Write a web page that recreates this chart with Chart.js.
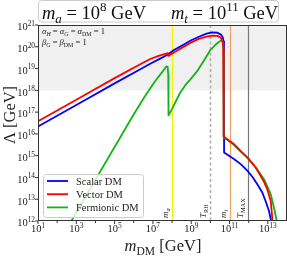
<!DOCTYPE html>
<html>
<head>
<meta charset="utf-8">
<script src="https://cdn.jsdelivr.net/npm/chart.js@4"></script>
<style>
  html, body { margin: 0; padding: 0; background: #fff; }
  canvas { display: block; }
</style>
</head>
<body>
<canvas id="chart" width="287" height="257"></canvas>
<script>
// values, as exponents: log10(m_DM / GeV) and log10(Lambda / GeV)
const scalarLogM = [1, 3, 5, 6.34, 6.86, 7.3, 7.74, 8.1, 8.5, 9.0, 9.4, 9.8, 10.1, 10.35, 10.55, 10.64, 10.69, 10.71, 10.715, 11.23, 11.6, 11.93, 12.2, 12.45, 12.71, 12.88, 13.06, 13.15, 13.18];
const scalarLogL = [16.34, 17.33, 18.32, 18.97, 19.22, 19.42, 19.62, 19.85, 20.05, 20.3, 20.46, 20.6, 20.66, 20.65, 20.56, 20.45, 20.25, 19.7, 15.15, 14.85, 14.6, 14.31, 14.02, 13.69, 13.31, 12.92, 12.46, 12.08, 12.0];

const vectorLogM = [1, 3, 5, 6.34, 6.86, 7.3, 7.6, 7.78, 7.8, 8.1, 8.5, 9.0, 9.4, 9.8, 10.1, 10.35, 10.53, 10.62, 10.67, 10.69, 10.695, 11.22, 11.6, 11.93, 12.36, 12.62, 12.8, 12.97, 13.15, 13.2, 13.24];
const vectorLogL = [16.58, 17.57, 18.56, 19.2, 19.44, 19.58, 19.66, 19.71, 19.58, 19.74, 19.95, 20.2, 20.36, 20.47, 20.51, 20.5, 20.43, 20.3, 20.05, 19.5, 15.88, 15.54, 15.2, 14.92, 14.46, 14.08, 13.8, 13.46, 12.92, 12.45, 12.0];

const fermionLogM = [2.74, 4, 5, 6, 6.6, 7.11, 7.45, 7.7, 7.77, 7.8, 7.815, 8.0, 8.2, 8.43, 8.7, 9.0, 9.31, 9.65, 10.0, 10.25, 10.44, 10.58, 10.65, 10.69, 10.695, 11.22, 11.6, 11.93, 12.36, 12.8, 13.15, 13.36, 13.46];
const fermionLogL = [12.0, 13.9, 15.4, 16.9, 17.75, 18.42, 18.8, 19.1, 19.08, 18.7, 16.85, 17.15, 17.5, 17.9, 18.25, 18.55, 18.88, 19.35, 19.85, 20.08, 20.22, 20.3, 20.22, 19.8, 15.84, 15.5, 15.18, 14.9, 14.48, 13.92, 13.23, 12.46, 12.0];

const seriesLabels = ["Scalar DM", "Vector DM", "Fermionic DM"];
const seriesColors = ["#0000ff", "#ff0000", "#14b414"];

const shadeAbove = 1e18;
const markerValues = [1e8, 1e10, 1e11, 9.3e11];
const markerNames = [["m", "a"], ["T", "RH"], ["m", "t"], ["T", "MAX"]];
const markerColors = ["#f2f200", "#b0b0b0", "#f0a064", "#777777"];

const xTickExps = [1, 3, 5, 7, 9, 11, 13];
const xMinorExps = [2, 4, 6, 8, 10, 12];
const yTickExps = [12, 13, 14, 15, 16, 17, 18, 19, 20, 21];

const SERIF = '"Liberation Serif", "DejaVu Serif", serif';

function toPoints(logM, logL) {
  return logM.map((m, i) => ({ x: Math.pow(10, m), y: Math.pow(10, logL[i]) }));
}

// small helper for text with sub/superscripts
function fontOf(p, size) {
  return (p.it ? "italic " : "") + (size * (p.sc || 1)).toFixed(2) + "px " + SERIF;
}
function richWidth(ctx, parts, size) {
  let w = 0;
  parts.forEach((p) => { ctx.font = fontOf(p, size); w += ctx.measureText(p.t).width; });
  return w;
}
function drawRich(ctx, parts, x, y, size, align) {
  const w = richWidth(ctx, parts, size);
  if (align === "center") x -= w / 2;
  if (align === "right") x -= w;
  ctx.textAlign = "left";
  ctx.textBaseline = "alphabetic";
  parts.forEach((p) => {
    ctx.font = fontOf(p, size);
    ctx.fillText(p.t, x, y + (p.dy || 0) * size);
    x += ctx.measureText(p.t).width;
  });
}
const sub = (t, it) => ({ t: t, it: it, sc: 0.7, dy: 0.22 });
const sup = (t) => ({ t: t, sc: 0.7, dy: -0.42 });

function roundRect(ctx, x, y, w, h, r) {
  ctx.beginPath();
  ctx.moveTo(x + r, y);
  ctx.arcTo(x + w, y, x + w, y + h, r);
  ctx.arcTo(x + w, y + h, x, y + h, r);
  ctx.arcTo(x, y + h, x, y, r);
  ctx.arcTo(x, y, x + w, y, r);
  ctx.closePath();
}

const decor = {
  id: "decor",
  beforeDatasetsDraw(chart) {
    const { ctx, chartArea: a, scales: { x, y } } = chart;
    ctx.save();
    ctx.fillStyle = "#f0f0f0";
    const yb = y.getPixelForValue(shadeAbove);
    ctx.fillRect(a.left, a.top, a.right - a.left, yb - a.top);

    markerValues.forEach((v, i) => {
      const px = Math.round(x.getPixelForValue(v)) + 0.5;
      ctx.strokeStyle = markerColors[i];
      ctx.lineWidth = i === 1 ? 1.6 : 1.2;
      ctx.setLineDash(i === 1 ? [3, 2.5] : []);
      ctx.beginPath();
      ctx.moveTo(px, a.top);
      ctx.lineTo(px, a.bottom);
      ctx.stroke();
    });
    ctx.restore();
  },
  afterDatasetsDraw(chart) {
    const { ctx, chartArea: a, scales: { x, y } } = chart;
    ctx.save();
    ctx.fillStyle = "#222";

    // rotated marker names at the bottom, just left of each line
    markerValues.forEach((v, i) => {
      const px = x.getPixelForValue(v);
      const n = markerNames[i];
      const subPx = n[1].length === 1 ? 2.5 : 3.2;
      ctx.save();
      ctx.translate(px - 1.5 - subPx, a.bottom - 3);
      ctx.rotate(-Math.PI / 2);
      drawRich(ctx, [{ t: n[0], it: true }, sub(n[1], n[1].length === 1)], 0, 0, 9, "left");
      ctx.restore();
    });

    // frame
    ctx.strokeStyle = "#333";
    ctx.lineWidth = 1;
    ctx.strokeRect(a.left + 0.5, a.top + 0.5, a.right - a.left - 1, a.bottom - a.top - 1);

    // y ticks
    yTickExps.forEach((e) => {
      const py = y.getPixelForValue(Math.pow(10, e));
      ctx.beginPath();
      ctx.moveTo(a.left - 3, py);
      ctx.lineTo(a.left, py);
      ctx.stroke();
      drawRich(ctx, [{ t: "10" }, sup(String(e))], a.left - 3, py + 5.3, 10.5, "right");
    });
    // x ticks
    xTickExps.forEach((e) => {
      const px = x.getPixelForValue(Math.pow(10, e));
      ctx.beginPath();
      ctx.moveTo(px, a.bottom);
      ctx.lineTo(px, a.bottom + 3);
      ctx.stroke();
      drawRich(ctx, [{ t: "10" }, sup(String(e))], px, 232, 10.5, "center");
    });
    xMinorExps.forEach((e) => {
      const px = x.getPixelForValue(Math.pow(10, e));
      ctx.beginPath();
      ctx.moveTo(px, a.bottom);
      ctx.lineTo(px, a.bottom + 2);
      ctx.stroke();
    });

    // axis titles
    drawRich(ctx, [{ t: "m", it: true }, sub("DM"), { t: " [GeV]" }], 163, 251, 16.5, "center");
    ctx.save();
    ctx.translate(15, 115);
    ctx.rotate(-Math.PI / 2);
    drawRich(ctx, [{ t: "Λ [GeV]" }], 0, 0, 16.5, "center");
    ctx.restore();

    // coupling note
    const al = { t: "α", it: true }, be = { t: "β", it: true }, eq = { t: " = " };
    drawRich(ctx, [al, sub("H", true), eq, al, sub("G", true), eq, al, sub("DM"), { t: " = 1" }], 42, 34, 8.5, "left");
    drawRich(ctx, [be, sub("G", true), eq, be, sub("DM"), { t: " = 1" }], 42, 45, 8.5, "left");

    // legend
    ctx.fillStyle = "rgba(255,255,255,0.8)";
    ctx.strokeStyle = "#cccccc";
    roundRect(ctx, 43.5, 174.5, 100, 43, 3);
    ctx.fill();
    ctx.stroke();
    chart.data.datasets.forEach((ds, i) => {
      const ly = 181 + i * 13.2;
      ctx.strokeStyle = ds.borderColor;
      ctx.lineWidth = 1.8;
      ctx.beginPath();
      ctx.moveTo(47, ly);
      ctx.lineTo(68, ly);
      ctx.stroke();
      ctx.fillStyle = "#222";
      drawRich(ctx, [{ t: ds.label }], 76, ly + 3.5, 10.5, "left");
    });

    // title box
    ctx.fillStyle = "#fff";
    ctx.strokeStyle = "#cccccc";
    ctx.lineWidth = 1;
    roundRect(ctx, 38.5, 0.5, 240, 21.5, 3);
    ctx.fill();
    ctx.stroke();
    ctx.fillStyle = "#111";
    drawRich(ctx, [{ t: "m", it: true }, sub("a", true), { t: " = 10" }, sup("8"), { t: " GeV" }], 42, 18.5, 18.5, "left");
    drawRich(ctx, [{ t: "m", it: true }, sub("t", true), { t: " = 10" }, sup("11"), { t: " GeV" }], 171, 18.5, 18.5, "left");
    ctx.restore();
  }
};

const datasets = [
  { label: seriesLabels[0], data: toPoints(scalarLogM, scalarLogL), borderColor: seriesColors[0], order: 2 },
  { label: seriesLabels[1], data: toPoints(vectorLogM, vectorLogL), borderColor: seriesColors[1], order: 0 },
  { label: seriesLabels[2], data: toPoints(fermionLogM, fermionLogL), borderColor: seriesColors[2], order: 1 }
].map((d) => Object.assign(d, {
  showLine: true,
  pointRadius: 0,
  borderWidth: 1.8,
  tension: 0,
  fill: false,
  borderJoinStyle: "round"
}));

new Chart(document.getElementById("chart"), {
  type: "scatter",
  data: { datasets: datasets },
  options: {
    responsive: false,
    devicePixelRatio: 1,
    animation: false,
    layout: { padding: { top: 25, right: 0, bottom: 0, left: 0 } },
    plugins: { legend: { display: false }, tooltip: { enabled: false } },
    scales: {
      x: {
        type: "logarithmic",
        min: 1e1,
        max: 1e14,
        grid: { display: false },
        border: { display: false },
        ticks: { display: false },
        afterFit: (s) => { s.height = 36; }
      },
      y: {
        type: "logarithmic",
        min: 1e12,
        max: 1e21,
        grid: { display: false },
        border: { display: false },
        ticks: { display: false },
        afterFit: (s) => { s.width = 38; }
      }
    }
  },
  plugins: [decor]
});
</script>
</body>
</html>
